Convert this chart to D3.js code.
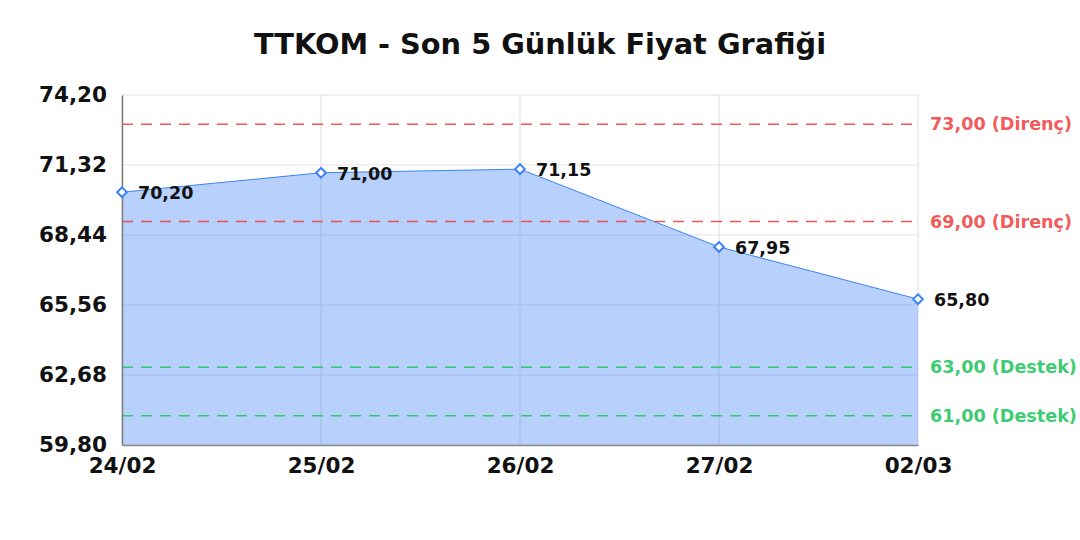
<!DOCTYPE html>
<html><head><meta charset="utf-8">
<script src="https://cdn.jsdelivr.net/npm/d3@7"></script>
<style>body{margin:0;background:#fff}svg{display:block;font-family:"DejaVu Sans",sans-serif}</style>
</head><body><svg id="c" width="1080" height="540"></svg>
<script>
const title = "TTKOM - Son 5 Günlük Fiyat Grafiği";
const dates = ["24/02","25/02","26/02","27/02","02/03"];
const prices = [70.20, 71.00, 71.15, 67.95, 65.80];
const yTicks = [59.80, 62.68, 65.56, 68.44, 71.32, 74.20];
const resistance = [73.00, 69.00];
const support = [63.00, 61.00];
const yDomain = [59.80, 74.20];

const svg = d3.select("#c");
const m = {l:122, r:918, t:95, b:445};
const fmt = v => v.toFixed(2).replace(".", ",");
const x = d3.scalePoint().domain(dates).range([m.l, m.r]);
const y = d3.scaleLinear().domain(yDomain).range([m.b, m.t]);

svg.append("text").attr("x", 540).attr("y", 54).attr("text-anchor","middle")
  .attr("font-size", 28.8).attr("font-weight","bold").attr("fill","#111").text(title);

// grid
const g = svg.append("g");
g.selectAll(".hg").data(yTicks).join("line")
  .attr("x1", m.l).attr("x2", m.r).attr("y1", d=>y(d)).attr("y2", d=>y(d))
  .attr("stroke","#e3e3e3").attr("stroke-width",1.2);
g.selectAll(".vg").data(dates).join("line")
  .attr("x1", d=>x(d)).attr("x2", d=>x(d)).attr("y1", m.t).attr("y2", m.b)
  .attr("stroke","#e3e3e3").attr("stroke-width",1.2);

// area
const data = dates.map((d,i)=>({d, v:prices[i]}));
svg.append("path").datum(data)
  .attr("d", d3.area().x(p=>x(p.d)).y0(y(yDomain[0])).y1(p=>y(p.v)))
  .attr("fill","rgba(59,130,246,0.37)");
svg.append("path").datum(data)
  .attr("d", d3.line().x(p=>x(p.d)).y(p=>y(p.v)))
  .attr("fill","none").attr("stroke","#3b82f6").attr("stroke-width",1);

// reference lines
const refs = resistance.map(v=>({v, t:"Direnç", c:"#ef4444"}))
  .concat(support.map(v=>({v, t:"Destek", c:"#22c55e"})));
svg.selectAll(".ref").data(refs).join("line")
  .attr("x1", m.l).attr("x2", m.r).attr("y1", d=>y(d.v)).attr("y2", d=>y(d.v))
  .attr("stroke", d=>d.c).attr("stroke-width",1.5).attr("stroke-opacity",0.9)
  .attr("stroke-dasharray","11,8");
svg.selectAll(".reft").data(refs).join("text")
  .attr("x", m.r+12).attr("y", d=>y(d.v)).attr("dy","0.35em")
  .attr("font-size",17.6).attr("font-weight","bold").attr("fill", d=>d.c)
  .attr("fill-opacity",0.9)
  .text(d=>`${fmt(d.v)} (${d.t})`);

// axes
const yAxis = svg.append("g").attr("transform",`translate(${m.l},0)`)
  .call(d3.axisLeft(y).tickValues(yTicks).tickFormat(fmt).tickSize(0).tickPadding(15));
yAxis.select(".domain").attr("stroke","#777").attr("stroke-width",1.4);
yAxis.selectAll("text").attr("font-size",21.5).attr("font-weight","bold").attr("fill","#111")
  .attr("font-family","DejaVu Sans");
const xAxis = svg.append("g").attr("transform",`translate(0,${m.b})`)
  .call(d3.axisBottom(x).tickSize(0).tickPadding(13));
xAxis.select(".domain").attr("stroke","#888").attr("stroke-width",1.4);
xAxis.selectAll("text").attr("font-size",21.5).attr("font-weight","bold").attr("fill","#111")
  .attr("font-family","DejaVu Sans");

// markers
svg.selectAll(".mk").data(data).join("path")
  .attr("d", d3.symbol(d3.symbolDiamond2, 60)())
  .attr("transform", p=>`translate(${x(p.d)},${y(p.v)})`)
  .attr("fill","#fff").attr("stroke","#3b82f6").attr("stroke-width",2);
svg.selectAll(".lb").data(data).join("text")
  .attr("x", p=>x(p.d)+16).attr("y", p=>y(p.v)).attr("dy","0.4em")
  .attr("font-size",17.5).attr("font-weight","bold").attr("fill","#111")
  .text(p=>fmt(p.v));
</script></body></html>
